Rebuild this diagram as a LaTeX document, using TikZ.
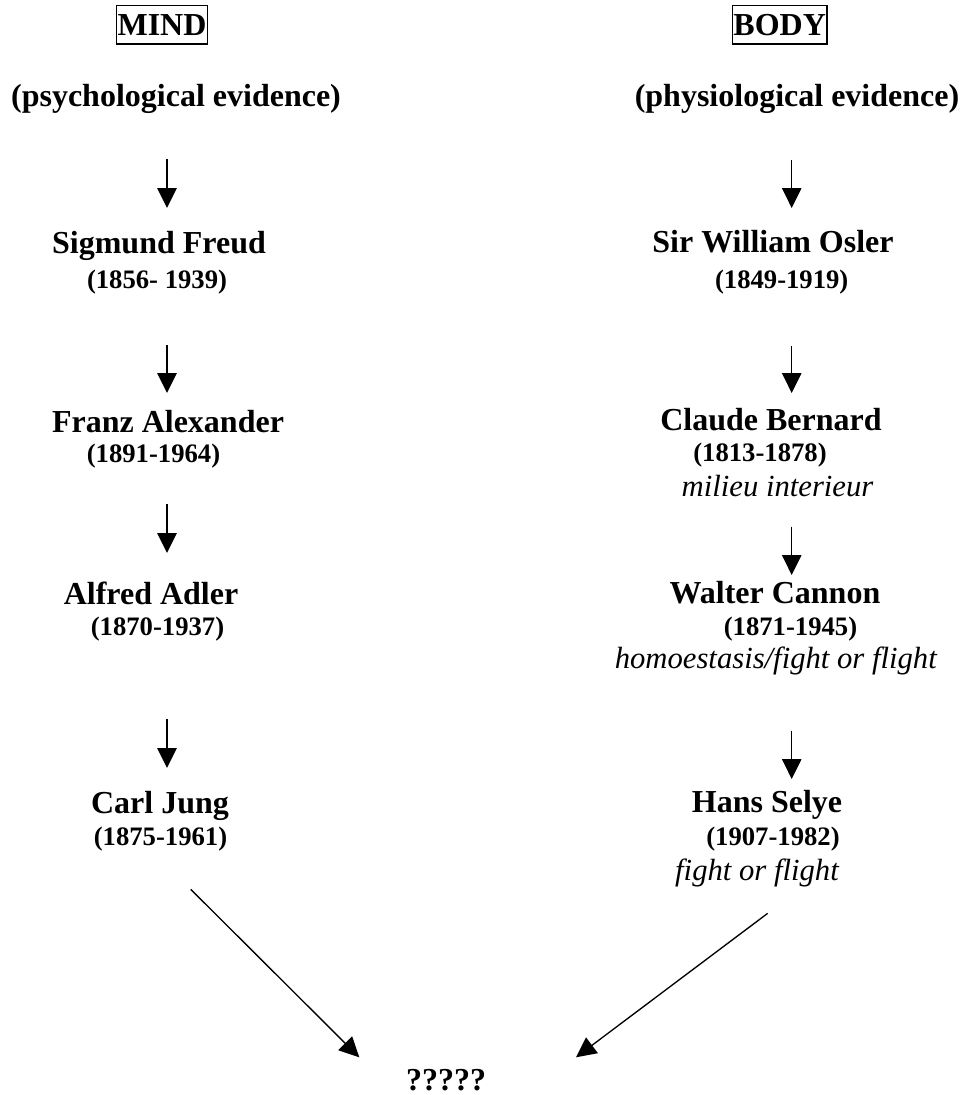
\documentclass[tikz,border=0pt]{standalone}
\usepackage{fontspec}
\setmainfont{Liberation Serif}
\usetikzlibrary{arrows.meta,positioning}

\begin{document}
\begin{tikzpicture}[
  x=0.375pt,y=-0.375pt,
  hd/.style={draw=black,line width=0.5pt,inner sep=0pt,minimum height=14.4pt,font=\fontsize{12}{14}\selectfont\bfseries},
  ev/.style={inner sep=0pt,anchor=base,font=\fontsize{12}{14}\selectfont\bfseries},
  nm/.style={inner sep=0pt,anchor=base,font=\fontsize{12}{14}\selectfont\bfseries},
  yr/.style={inner sep=0pt,anchor=base,font=\fontsize{10}{12}\selectfont\bfseries},
  nt/.style={inner sep=0pt,anchor=base,font=\fontsize{11.5}{13}\selectfont\itshape},
  arr/.style={line width=0.5pt,-{Triangle[length=7.5pt,width=7.3pt]}}
]
\useasboundingbox (0,0) rectangle (967,1095);

% headings
\node[hd,minimum width=34.3pt] (mind) at (162,24.9) {MIND};
\node[hd,minimum width=35.5pt] (body) at (779.7,24.9) {BODY};
\node[ev] (psy) at (176,106.7) {(psychological evidence)};
\node[ev] (phy) at (797,106.7) {(physiological evidence)};

% mind column
\node[nm] (freud) at (159,253) {Sigmund Freud};
\node[yr] (freudyr) at (157,288) {(1856- 1939)};
\node[nm] (alex) at (168,432) {Franz Alexander};
\node[yr] (alexyr) at (153.5,462) {(1891-1964)};
\node[nm] (adler) at (151,604) {Alfred Adler};
\node[yr] (adleryr) at (157.5,635) {(1870-1937)};
\node[nm] (jung) at (160,813) {Carl Jung};
\node[yr] (jungyr) at (160.5,845) {(1875-1961)};

% body column
\node[nm] (osler) at (773,252.7) {Sir William Osler};
\node[yr] (osleryr) at (781.7,288) {(1849-1919)};
\node[nm] (bern) at (771,430.7) {Claude Bernard};
\node[yr] (bernyr) at (760,461.7) {(1813-1878)};
\node[nt] (bernnt) at (777.5,496.7) {milieu interieur};
\node[nm] (cannon) at (775,603) {Walter Cannon};
\node[yr] (cannonyr) at (790.5,635) {(1871-1945)};
\node[nt] (cannonnt) at (775.8,668) {homoestasis/fight or flight};
\node[nm] (selye) at (767,812.7) {Hans Selye};
\node[yr] (selyeyr) at (773,845) {(1907-1982)};
\node[nt] (selyent) at (757,880) {fight or flight};

\node[nm] (q) at (446,1090.7) {?????};

% arrow ends
\coordinate (l1a) at (167,159);   \coordinate (l1b) at (167,208);
\coordinate (l2a) at (167,345);   \coordinate (l2b) at (167,393);
\coordinate (l3a) at (167,504);   \coordinate (l3b) at (167,553);
\coordinate (l4a) at (167,719);   \coordinate (l4b) at (167,768);
\coordinate (r1a) at (791.7,160);   \coordinate (r1b) at (791.7,208);
\coordinate (r2a) at (791.7,345.7); \coordinate (r2b) at (791.7,393);
\coordinate (r3a) at (791.7,526.7); \coordinate (r3b) at (791.7,575);
\coordinate (r4a) at (791.7,730.7); \coordinate (r4b) at (791.7,779);
\coordinate (lda) at (190.7,889.3); \coordinate (ldb) at (359.3,1057.3);
\coordinate (rda) at (767.7,913.3); \coordinate (rdb) at (576,1057.3);

\draw[arr] (l1a) -- (l1b);
\draw[arr] (l2a) -- (l2b);
\draw[arr] (l3a) -- (l3b);
\draw[arr] (l4a) -- (l4b);
\draw[arr] (r1a) -- (r1b);
\draw[arr] (r2a) -- (r2b);
\draw[arr] (r3a) -- (r3b);
\draw[arr] (r4a) -- (r4b);
\draw[arr] (lda) -- (ldb);
\draw[arr] (rda) -- (rdb);
\end{tikzpicture}
\end{document}
